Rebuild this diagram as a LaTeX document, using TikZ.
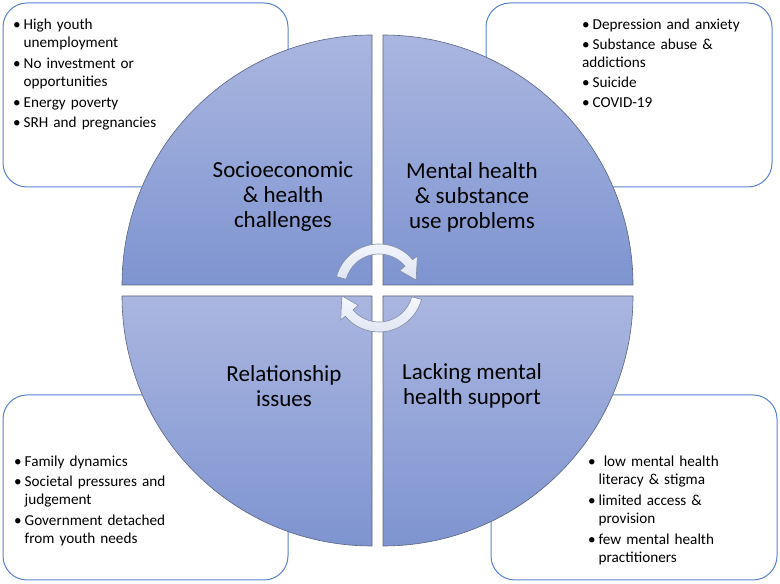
\documentclass[tikz,border=0pt]{standalone}
\usepackage{fontspec}
\setmainfont{Carlito}
\usetikzlibrary{calc}
\tikzset{
  box/.style={draw=bEdge, line width=1pt, rounded corners=24pt, fill=white},
  quad/.style={draw=qEdge, line width=0.6pt, top color=qTop, bottom color=qBot},
  lbl/.style={align=center, font=\fontsize{23}{25}\selectfont},
  lst/.style={anchor=north west, inner sep=0pt, text width=240pt, align=left, font=\fontsize{15.2}{18}\selectfont},
  cyc/.style={draw=cEdge, line width=0.6pt, top color=cTop, bottom color=cFill}
}
\definecolor{qTop}{RGB}{170,182,224}
\definecolor{qBot}{RGB}{126,148,208}
\definecolor{qEdge}{RGB}{90,100,125}
\definecolor{bEdge}{RGB}{88,130,208}
\definecolor{cTop}{RGB}{245,247,252}
\definecolor{cFill}{RGB}{222,228,242}
\definecolor{cEdge}{RGB}{130,140,165}
% bullet item, lines split with \\ keep the hanging indent
\newcommand{\bul}[1]{\par\vspace{2pt}\noindent\strut\makebox[10.5pt][l]{\textbullet}\begin{tabular}[t]{@{}l@{}}#1\end{tabular}}
% bullet item whose second line starts at the margin
\newcommand{\bulx}[1]{\par\vspace{2pt}\noindent\strut\makebox[10.5pt][l]{\textbullet}#1}

\begin{document}
\begin{tikzpicture}[x=1pt, y=1pt]
  \useasboundingbox (0,0) rectangle (780,584);
  % corner boxes
  \path[box] (3,397) rectangle (288,581);
  \path[box] (486,397) rectangle (772,581);
  \path[box] (3,4) rectangle (288,189);
  \path[box] (491,4) rectangle (777,189);
  % four quarters
  \path[quad] (372,299) -- (122,299) arc[start angle=180, end angle=90, radius=250] -- cycle;
  \path[quad] (383,299) -- (383,549) arc[start angle=90, end angle=0, radius=250] -- cycle;
  \path[quad] (372,288) -- (372,38) arc[start angle=270, end angle=180, radius=250] -- cycle;
  \path[quad] (383,288) -- (633,288) arc[start angle=0, end angle=-90, radius=250] -- cycle;
  \node[lbl] (socio) at (283,387) {Socioeconomic\\\& health\\challenges};
  \node[lbl] (mental) at (472,387) {Mental health\\\& substance\\use problems};
  \node[lbl] (relat) at (284,198) {Relationship\\issues};
  \node[lbl] (lack) at (472,198) {Lacking mental\\health support};
  % lists
  \node[lst] (socioList) at (13,575) {\bul{High youth\\unemployment}\bul{No investment or\\opportunities}\bul{Energy poverty}\bul{SRH and pregnancies}};
  \node[lst] (mentalList) at (582,575) {\bul{Depression and anxiety}\bulx{Substance abuse \&\newline addictions}\bul{Suicide}\bul{COVID-19}};
  \node[lst] (relatList) at (14,138) {\bul{Family dynamics}\bul{Societal pressures and\\judgement}\bul{Government detached\\from youth needs}};
  \node[lst] (lackList) at (588,138) {\bul{\ low mental health\\literacy \& stigma}\bul{limited access \&\\provision}\bul{few mental health\\practitioners}};
  % cycle arrows
  \foreach \r in {0,180} {
    \path[cyc, shift={(379,296)}, rotate=\r] (165:44) arc[start angle=165, end angle=40, radius=44]
      -- (40:50) -- (12:38) -- (40:27) -- (40:34) arc[start angle=40, end angle=165, radius=34] -- cycle;
  }
\end{tikzpicture}
\end{document}
